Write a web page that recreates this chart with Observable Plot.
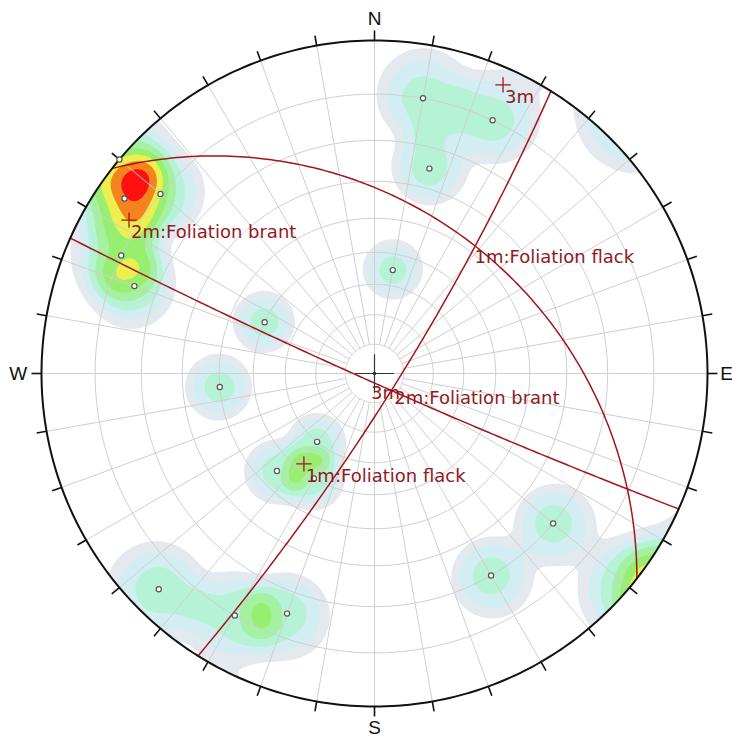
<!DOCTYPE html>
<html>
<head>
<meta charset="utf-8">
<script src="https://cdn.jsdelivr.net/npm/d3@7"></script>
<script src="https://cdn.jsdelivr.net/npm/@observablehq/plot@0.6"></script>
<style>
  html, body { margin: 0; padding: 0; background: #fff; }
  #chart svg { display: block; }
</style>
</head>
<body>
<div id="chart"></div>
<script>
// ---------- DATA ----------
// Poles (lower hemisphere): trend (deg) and plunge (deg)
const poleTrend  = [305, 310, 310, 295, 290,  10,  25,  15,  10, 295, 265, 220, 225, 210, 225, 210, 200, 130, 150];
const polePlunge = [  5,  10,   0,  10,  15,  10,  10,  25,  55,  50,  40,  60,  45,  50,   5,  10,  15,  20,  20];
const poleWeight = [  1,   1,   1,   1,   1,   1,   1,   1,   1,   1,   1,   1,   1,   1,   1,   1,   1,   1,   1];

// Mean set poles and their planes
const setLabel       = ["1m:Foliation flack", "2m:Foliation brant", "3m"];
const setPoleTrend   = [218, 302, 24];
const setPolePlunge  = [52, 8, 3];

// Compass labels
const compassLabel = ["N", "E", "S", "W"];
const compassAz    = [0, 90, 180, 270];
const compassR     = [1.066, 1.057, 1.063, 1.07];

// Grid definition
const gridRingPlunges = [80, 70, 60, 50, 40, 30, 20, 10];
const gridAzimuths = d3.range(0, 360, 10);
const tickAzimuths = d3.range(0, 360, 10);

// Density contour levels and colours
const densityLevels = [1, 2, 3, 4, 5, 6, 7, 8];
const densityColors = ["#e3e9ee", "#d3eef2", "#b6f2d6", "#a6f0a4", "#98ee6e", "#ecf04e", "#f5841f", "#ff1010"];

// ---------- GEOMETRY HELPERS (Wulff / equal-angle, lower hemisphere) ----------
const rad = Math.PI / 180;
function proj(trend, plunge) {
  const c = (90 - plunge) * rad;
  const r = Math.tan(c / 2);
  return [r * Math.sin(trend * rad), r * Math.cos(trend * rad)];
}
function vec(trend, plunge) {
  const cp = Math.cos(plunge * rad);
  return [cp * Math.sin(trend * rad), cp * Math.cos(trend * rad), Math.sin(plunge * rad)];
}
function toTP(v) {
  let [e, n, d] = v;
  if (d < 0) { e = -e; n = -n; d = -d; }
  const plunge = Math.asin(Math.min(1, d)) / rad;
  const trend = (Math.atan2(e, n) / rad + 360) % 360;
  return [trend, plunge];
}

const poles = poleTrend.map((t, i) => ({trend: t, plunge: polePlunge[i], w: poleWeight[i]}));
const sets = setLabel.map((label, i) => {
  const pt = setPoleTrend[i], pp = setPolePlunge[i];
  const dipDir = (pt + 180) % 360, dip = 90 - pp;
  return {label, poleTrend: pt, polePlunge: pp, dipDir, dip};
});

// Great-circle points of each plane
const planePts = [];
for (const s of sets) {
  const sAz = (s.dipDir - 90) * rad;
  const sv = [Math.sin(sAz), Math.cos(sAz), 0];
  const dv = vec(s.dipDir, s.dip);
  for (let phi = 0; phi <= 180; phi += 1) {
    const c = Math.cos(phi * rad), sn = Math.sin(phi * rad);
    const v = [c * sv[0] + sn * dv[0], c * sv[1] + sn * dv[1], c * sv[2] + sn * dv[2]];
    const [t, p] = toTP(v);
    const [x, y] = proj(t, p);
    planePts.push({label: s.label, x, y});
  }
}

// Grid rings (small circles of equal plunge) and primitive
const ringPts = [];
for (const p of gridRingPlunges) {
  for (let a = 0; a <= 360; a += 2) {
    const [x, y] = proj(a, p);
    ringPts.push({ring: p, x, y});
  }
}
const primPts = d3.range(0, 361, 1).map(a => { const [x, y] = proj(a, 0); return {x, y}; });

// Density (axial, spherical kernel)
const KS = 9;              // kernel angular width, degrees
const KP = 3.5;            // kernel shape exponent
const LEVEL_STEP = 0.31;   // density step between contour levels
const poleVecs = poles.map(p => [...vec(p.trend, p.plunge), p.w]);
function density(x, y) {
  const r2 = x * x + y * y;
  if (r2 > 1) return 0;
  const r = Math.sqrt(r2);
  const c = 2 * Math.atan(r);
  const sc = Math.sin(c), cc = Math.cos(c);
  const e = r ? sc * x / r : 0, n = r ? sc * y / r : 0, d = cc;
  let s = 0;
  for (const p of poleVecs) {
    const dot = Math.abs(e * p[0] + n * p[1] + d * p[2]);
    const th = Math.acos(Math.min(1, dot)) / rad;
    s += p[3] * Math.exp(-Math.pow(th / KS, KP));
  }
  return s;
}
const thresholds = densityLevels.map(l => l * LEVEL_STEP);
const thresholdCuts = densityLevels.slice(1).map(l => (l - 0.5) * LEVEL_STEP);

// ---------- LAYOUT ----------
const W = 732, H = 738, CX = 374, CY = 373, RP = 333;
const xDomain = [-CX / RP, (W - CX) / RP];
const yDomain = [(CY - H) / RP, CY / RP];
const tickLen = 10 / RP;

const red = "#a3161c", redText = "#921a1f";
const font = "DejaVu Sans, Verdana, sans-serif";

const chart = Plot.plot({
  width: W,
  height: H,
  margin: 0,
  x: {domain: xDomain, axis: null},
  y: {domain: yDomain, axis: null},
  color: {type: "threshold", domain: thresholdCuts, range: densityColors},
  style: {background: "#fff"},
  marks: [
    // density contours
    Plot.contour({
      x1: -1, x2: 1, y1: -1, y2: 1,
      fill: (x, y) => density(x, y),
      thresholds,
      pixelSize: 1,
      stroke: "none"
    }),
    // grid rings
    Plot.line(ringPts, {x: "x", y: "y", z: "ring", stroke: "#cfcfcf", strokeWidth: 1}),
    // radial grid lines
    Plot.link(gridAzimuths, {
      x1: a => proj(a, a % 90 === 0 ? 90 : 80)[0],
      y1: a => proj(a, a % 90 === 0 ? 90 : 80)[1],
      x2: a => proj(a, 0)[0],
      y2: a => proj(a, 0)[1],
      stroke: "#cfcfcf", strokeWidth: 1
    }),
    // great circles
    Plot.line(planePts, {x: "x", y: "y", z: "label", stroke: red, strokeWidth: 1.5}),
    // primitive circle
    Plot.line(primPts, {x: "x", y: "y", stroke: "#111", strokeWidth: 2}),
    // outer ticks
    Plot.link(tickAzimuths, {
      x1: a => Math.sin(a * rad), y1: a => Math.cos(a * rad),
      x2: a => (1 + tickLen) * Math.sin(a * rad), y2: a => (1 + tickLen) * Math.cos(a * rad),
      stroke: "#111", strokeWidth: 1.6
    }),
    // poles
    Plot.dot(poles, {
      x: d => proj(d.trend, d.plunge)[0], y: d => proj(d.trend, d.plunge)[1],
      r: 2.6, fill: "#fff", stroke: "#555", strokeWidth: 1.2
    }),
    // mean set poles
    Plot.dot(sets, {
      x: d => proj(d.poleTrend, d.polePlunge)[0], y: d => proj(d.poleTrend, d.polePlunge)[1],
      symbol: "plus", r: 5, stroke: red, strokeWidth: 1.3
    }),
    Plot.text(sets, {
      x: d => proj(d.poleTrend, d.polePlunge)[0], y: d => proj(d.poleTrend, d.polePlunge)[1],
      text: "label", textAnchor: "start", lineAnchor: "top", dx: 2, dy: 5,
      fill: redText, fontSize: 18, fontFamily: font
    }),
    // plane labels at the dip-direction point of each great circle
    Plot.text(sets, {
      x: d => proj(d.dipDir, d.dip)[0], y: d => proj(d.dipDir, d.dip)[1],
      text: "label", textAnchor: "start", lineAnchor: "top", dx: 0, dy: 5,
      fill: redText, fontSize: 18, fontFamily: font
    }),
    // centre cross
    Plot.dot([0], {x: () => 0, y: () => 0, symbol: "plus", r: 12.5, stroke: "#333", strokeWidth: 1.2}),
    Plot.dot([0], {x: () => 0, y: () => 0, r: 1.8, fill: "#333"}),
    // compass labels
    Plot.text(compassLabel, {
      x: (d, i) => compassR[i] * Math.sin(compassAz[i] * rad),
      y: (d, i) => compassR[i] * Math.cos(compassAz[i] * rad),
      text: d => d, textAnchor: "middle", lineAnchor: "middle",
      fill: "#111", fontSize: 19, fontFamily: "Liberation Sans, Arial, sans-serif"
    })
  ]
});
document.getElementById("chart").appendChild(chart);
</script>
</body>
</html>
